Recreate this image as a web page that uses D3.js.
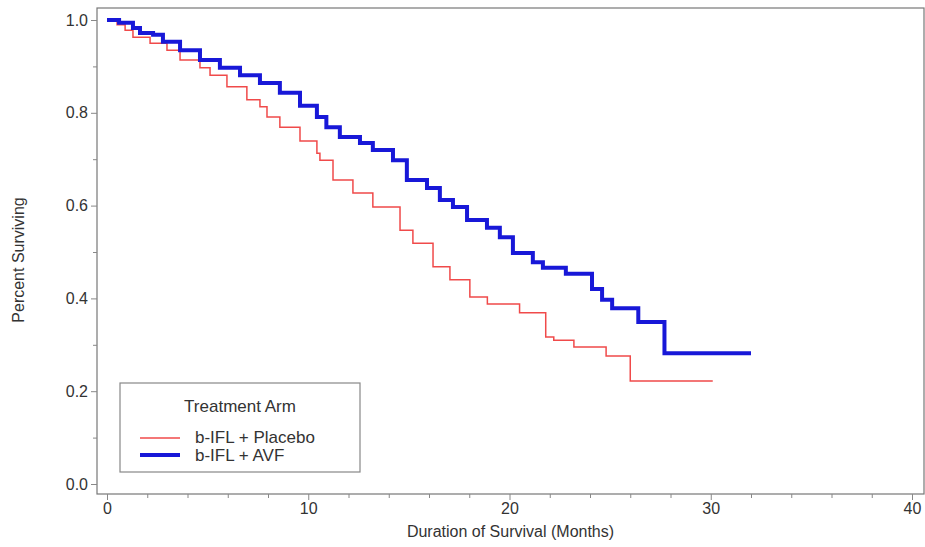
<!DOCTYPE html>
<html><head><meta charset="utf-8">
<script src="https://cdn.jsdelivr.net/npm/d3@7"></script>
<style>body{margin:0;background:#fff}text{font-family:"Liberation Sans",Arial,sans-serif;fill:#333}</style>
</head><body><svg id="c" width="925" height="547"></svg>
<script>
const placeboT=[0,0.5,0.9,1.29,2.14,2.98,3.63,4.62,5.12,5.96,6.95,7.6,7.95,8.59,9.59,10.43,10.58,11.23,12.22,13.21,14.56,15.2,16.2,17.04,18.03,18.9,20.5,21.8,22.2,23.2,24.8,26.0,30.1];
const placeboS=[1,0.99,0.978,0.963,0.95,0.935,0.914,0.897,0.881,0.856,0.828,0.813,0.791,0.769,0.739,0.713,0.698,0.655,0.627,0.597,0.547,0.519,0.468,0.44,0.403,0.388,0.369,0.317,0.31,0.295,0.276,0.222,0.222];
const avfT=[0,0.6,1.29,1.64,2.29,2.78,3.63,4.62,5.61,6.61,7.6,8.59,9.59,10.43,10.9,11.57,12.57,13.21,14.21,14.9,15.9,16.54,17.19,17.89,18.88,19.52,20.17,21.16,21.66,22.8,24.1,24.6,25.1,26.4,27.7,32.0];
const avfS=[1,0.994,0.983,0.972,0.968,0.953,0.935,0.914,0.897,0.881,0.864,0.843,0.815,0.791,0.769,0.748,0.735,0.72,0.698,0.655,0.638,0.612,0.597,0.569,0.552,0.532,0.498,0.478,0.466,0.453,0.42,0.397,0.379,0.349,0.282,0.282];
const xTicks=[0,10,20,30,40], yTicks=[0,0.2,0.4,0.6,0.8,1.0];
const svg=d3.select("#c");
const x=d3.scaleLinear().domain([0,40]).range([107,912]);
const y=d3.scaleLinear().domain([0,1]).range([484,20]);
const L=97,R=924,T=8,B=494;
svg.append("rect").attr("x",L).attr("y",T).attr("width",R-L).attr("height",B-T).attr("fill","none").attr("stroke","#777").attr("stroke-width",1.2);
svg.append("g").attr("transform",`translate(0,${B})`).call(d3.axisBottom(x).tickValues(xTicks).tickFormat(d3.format("d")).tickSize(6));
svg.append("g").attr("transform",`translate(0,${B})`).call(d3.axisBottom(x).tickValues(d3.range(2,40,2).filter(v=>v%10)).tickFormat("").tickSize(4));
svg.append("g").attr("transform",`translate(${L},0)`).call(d3.axisLeft(y).tickValues(yTicks).tickFormat(d3.format(".1f")).tickSize(6));
svg.append("g").attr("transform",`translate(${L},0)`).call(d3.axisLeft(y).tickValues([0.1,0.3,0.5,0.7,0.9]).tickFormat("").tickSize(4));
svg.selectAll(".domain").remove();
svg.selectAll(".tick line").attr("stroke","#888");
svg.selectAll(".tick text").attr("font-size",16).style("fill","#333");
svg.append("text").attr("x",(L+R)/2).attr("y",537).attr("text-anchor","middle").attr("font-size",16).text("Duration of Survival (Months)");
svg.append("text").attr("transform","translate(24,260) rotate(-90)").attr("text-anchor","middle").attr("font-size",16).text("Percent Surviving");
const line=d3.line().curve(d3.curveStepAfter).x(d=>x(d[0])).y(d=>y(d[1]));
svg.append("path").datum(placeboT.map((t,i)=>[t,placeboS[i]])).attr("d",line).attr("fill","none").attr("stroke","#f04a4a").attr("stroke-width",1.5);
svg.append("path").datum(avfT.map((t,i)=>[t,avfS[i]])).attr("d",line).attr("fill","none").attr("stroke","#1818d8").attr("stroke-width",4);
const lg=svg.append("g");
lg.append("rect").attr("x",120).attr("y",383).attr("width",240).attr("height",89).attr("fill","#fff").attr("stroke","#888").attr("stroke-width",1.2);
lg.append("text").attr("x",240).attr("y",412).attr("text-anchor","middle").attr("font-size",17).text("Treatment Arm");
lg.append("line").attr("x1",140).attr("x2",180).attr("y1",438).attr("y2",438).attr("stroke","#f04a4a").attr("stroke-width",1.5);
lg.append("line").attr("x1",140).attr("x2",180).attr("y1",455).attr("y2",455).attr("stroke","#1818d8").attr("stroke-width",4);
lg.append("text").attr("x",195).attr("y",443).attr("font-size",17).text("b-IFL + Placebo");
lg.append("text").attr("x",195).attr("y",461).attr("font-size",17).text("b-IFL + AVF");
</script></body></html>
